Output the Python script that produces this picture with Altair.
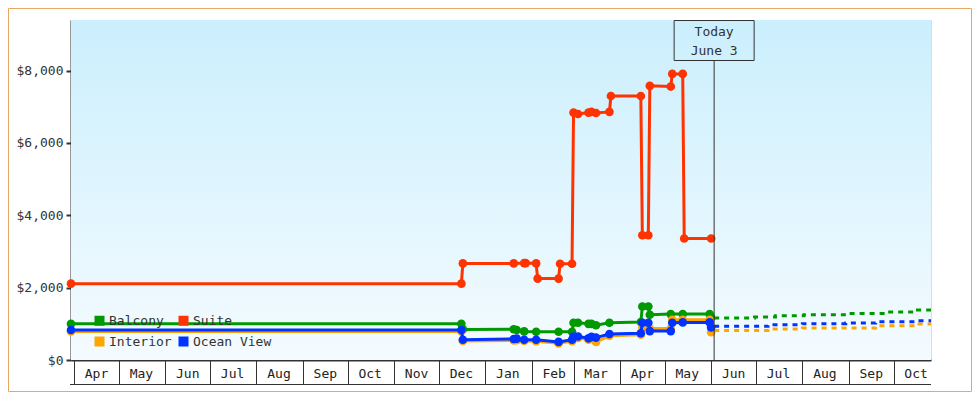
import altair as alt
import pandas as pd

FONT = "DejaVu Sans Mono"
INK = "#333333"

SERIES = ["Balcony", "Suite", "Interior", "Ocean View"]
COLORS = ["#009900", "#ff3300", "#ffa500", "#0033ff"]

# ---------------- historical prices ----------------
balcony_dates = ["2018-03-30", "2018-12-16", "2018-12-17", "2019-01-20", "2019-01-22",
                 "2019-01-27", "2019-02-04", "2019-02-19", "2019-02-28", "2019-03-01",
                 "2019-03-04", "2019-03-11", "2019-03-13", "2019-03-16", "2019-03-25",
                 "2019-04-15", "2019-04-16", "2019-04-20", "2019-04-21", "2019-05-05",
                 "2019-05-13", "2019-05-31", "2019-06-01"]
balcony_prices = [1000, 1000, 845, 850, 830,
                  790, 780, 780, 780, 1030,
                  1030, 1000, 1000, 960, 1030,
                  1050, 1480, 1480, 1250, 1270,
                  1270, 1270, 1170]

suite_dates = ["2018-03-30", "2018-12-16", "2018-12-17", "2019-01-20", "2019-01-27",
               "2019-01-28", "2019-02-04", "2019-02-05", "2019-02-19", "2019-02-20",
               "2019-02-28", "2019-03-01", "2019-03-04", "2019-03-11", "2019-03-13",
               "2019-03-16", "2019-03-25", "2019-03-26", "2019-04-15", "2019-04-16",
               "2019-04-20", "2019-04-21", "2019-05-05", "2019-05-06", "2019-05-13",
               "2019-05-14", "2019-06-01"]
suite_prices = [2110, 2110, 2670, 2670, 2680,
                2680, 2670, 2250, 2250, 2660,
                2660, 6840, 6800, 6840, 6860,
                6830, 6860, 7300, 7300, 3450,
                3450, 7580, 7560, 7910, 7910,
                3360, 3360]

interior_dates = ["2018-03-30", "2018-12-16", "2018-12-17", "2019-01-20", "2019-01-22",
                  "2019-01-27", "2019-02-04", "2019-02-19", "2019-02-28", "2019-03-01",
                  "2019-03-04", "2019-03-11", "2019-03-13", "2019-03-16", "2019-03-25",
                  "2019-04-15", "2019-04-16", "2019-04-20", "2019-04-21", "2019-05-05",
                  "2019-05-06", "2019-05-13", "2019-05-31", "2019-06-01"]
interior_prices = [790, 790, 525, 540, 550,
                   525, 520, 460, 520, 610,
                   610, 560, 600, 500, 670,
                   700, 900, 900, 870, 870,
                   1110, 1110, 1110, 770]

ocean_dates = ["2018-03-30", "2018-12-16", "2018-12-17", "2019-01-20", "2019-01-22",
               "2019-01-27", "2019-02-04", "2019-02-19", "2019-02-28", "2019-03-01",
               "2019-03-04", "2019-03-11", "2019-03-13", "2019-03-16", "2019-03-25",
               "2019-04-15", "2019-04-16", "2019-04-20", "2019-04-21", "2019-05-05",
               "2019-05-06", "2019-05-13", "2019-05-31", "2019-06-01"]
ocean_prices = [830, 830, 560, 580, 590,
                560, 560, 500, 560, 650,
                650, 600, 640, 620, 720,
                740, 1030, 1030, 800, 800,
                1030, 1040, 1040, 900]

# ---------------- forecast prices ----------------
balcony_fc_dates = ["2019-06-03", "2019-06-30", "2019-07-14", "2019-08-02",
                    "2019-08-31", "2019-09-26", "2019-10-17", "2019-10-26"]
balcony_fc_prices = [1160, 1190, 1225, 1250, 1285, 1325, 1380, 1380]

interior_fc_dates = ["2019-06-03", "2019-07-09", "2019-08-01", "2019-09-19",
                     "2019-10-16", "2019-10-26"]
interior_fc_prices = [815, 855, 885, 945, 995, 995]

ocean_fc_dates = ["2019-06-03", "2019-07-09", "2019-08-01", "2019-08-30",
                  "2019-09-19", "2019-10-16", "2019-10-26"]
ocean_fc_prices = [930, 975, 1005, 1020, 1060, 1085, 1085]

today_date = ["2019-06-03"]
today_lines = ["Today", "June 3"]

x_start = alt.DateTime(year=2018, month=3, date=30)
x_end = alt.DateTime(year=2019, month=10, date=26)
y_ticks = [0, 2000, 4000, 6000, 8000]
y_max = 9400


def frame(name, dates, prices):
    return pd.DataFrame({"series": name, "date": pd.to_datetime(dates), "price": prices})


hist = {
    "Balcony": frame("Balcony", balcony_dates, balcony_prices),
    "Suite": frame("Suite", suite_dates, suite_prices),
    "Interior": frame("Interior", interior_dates, interior_prices),
    "Ocean View": frame("Ocean View", ocean_dates, ocean_prices),
}
fc = {
    "Balcony": frame("Balcony", balcony_fc_dates, balcony_fc_prices),
    "Interior": frame("Interior", interior_fc_dates, interior_fc_prices),
    "Ocean View": frame("Ocean View", ocean_fc_dates, ocean_fc_prices),
}

X = alt.X(
    "date:T",
    scale=alt.Scale(domain=[x_start, x_end]),
    axis=alt.Axis(
        title=None, format="%b", tickCount={"interval": "month", "step": 1},
        labelOffset=22, labelAlign="center", labelBaseline="middle", labelPadding=-11,
        labelFlush=False, labelOverlap=False, labelBound=False,
        tickSize=24, tickWidth=1, tickColor=INK, domainColor=INK, domainWidth=2,
        grid=False, labelFont=FONT, labelFontSize=13, labelColor="#222222",
    ),
)
Y = alt.Y(
    "price:Q",
    scale=alt.Scale(domain=[0, y_max], nice=False),
    axis=alt.Axis(
        title=None, values=y_ticks, format="$,d", tickSize=5, tickWidth=2,
        tickColor=INK, domainColor=INK, domainWidth=2, labelPadding=3, grid=False,
        labelFont=FONT, labelFontSize=13, labelColor=INK,
    ),
)

bg = alt.LinearGradient(
    gradient="linear",
    stops=[alt.GradientStop(color="#cbeffd", offset=0), alt.GradientStop(color="#f4fbff", offset=1)],
    x1=0, x2=0, y1=0, y2=1,
)

layers = []
one = pd.DataFrame({"k": [0]})
# plot background gradient
layers.append(
    alt.Chart(one).mark_rect(color=bg, strokeWidth=0).encode(
        x=alt.value(0), x2=alt.value(860), y=alt.value(0), y2=alt.value(340)
    )
)
# outer border of the whole picture
layers.append(
    alt.Chart(one).mark_rect(filled=False, stroke="#e9a964", strokeWidth=1).encode(
        x=alt.value(-62.5), x2=alt.value(900.5), y=alt.value(-11.5), y2=alt.value(371.5)
    )
)
# bottom line of the month band
layers.append(
    alt.Chart(one).mark_rule(color=INK, strokeWidth=1).encode(
        x=alt.value(-1), x2=alt.value(860), y=alt.value(364.5)
    )
)

for name, color in zip(SERIES, COLORS):
    if name in fc:
        layers.append(
            alt.Chart(fc[name]).mark_line(
                color=color, strokeWidth=3, strokeDash=[5, 5], interpolate="step-after"
            ).encode(x=X, y=Y)
        )

for name, color in zip(SERIES, COLORS):
    layers.append(
        alt.Chart(hist[name]).mark_line(
            color=color, strokeWidth=3,
            point=alt.OverlayMarkDef(color=color, filled=True, size=75, opacity=1),
        ).encode(x=X, y=Y)
    )

today_df = pd.DataFrame({"date": pd.to_datetime(today_date)})
layers.append(
    alt.Chart(today_df).mark_rule(color=INK, strokeWidth=1).encode(
        x=X, y=alt.value(40), y2=alt.value(340)
    )
)
layers.append(
    alt.Chart(today_df).mark_rect(
        fill="transparent", stroke=INK, strokeWidth=1, xOffset=-40, x2Offset=40
    ).encode(x=X, x2="date:T", y=alt.value(0.5), y2=alt.value(40.5))
)
for i, line in enumerate(today_lines):
    layers.append(
        alt.Chart(today_df).mark_text(
            text=line, font=FONT, fontSize=13, color=INK, align="center", baseline="alphabetic"
        ).encode(x=X, y=alt.value(16 + 19 * i))
    )

# legend-only layer
legend_df = pd.DataFrame({"series": SERIES})
layers.append(
    alt.Chart(legend_df).mark_square(size=100, opacity=1).encode(
        color=alt.Color(
            "series:N",
            scale=alt.Scale(domain=SERIES, range=COLORS),
            legend=alt.Legend(
                title=None, orient="none", legendX=22, legendY=294, columns=2,
                direction="horizontal",
                symbolType="square", symbolSize=100, symbolStrokeWidth=0,
                labelFont=FONT, labelFontSize=13, labelColor=INK, labelOffset=3,
                columnPadding=5, rowPadding=7, padding=0,
            ),
        )
    ).transform_filter("false")
)

chart = alt.layer(*layers).properties(
    width=860, height=340,
    autosize=alt.AutoSizeParams(type="none"),
    padding={"left": 63, "top": 12, "right": 41, "bottom": 32},
).configure_view(stroke="transparent").configure(background="white")

chart.save("out.html", embed_options={"renderer": "svg", "actions": False})
